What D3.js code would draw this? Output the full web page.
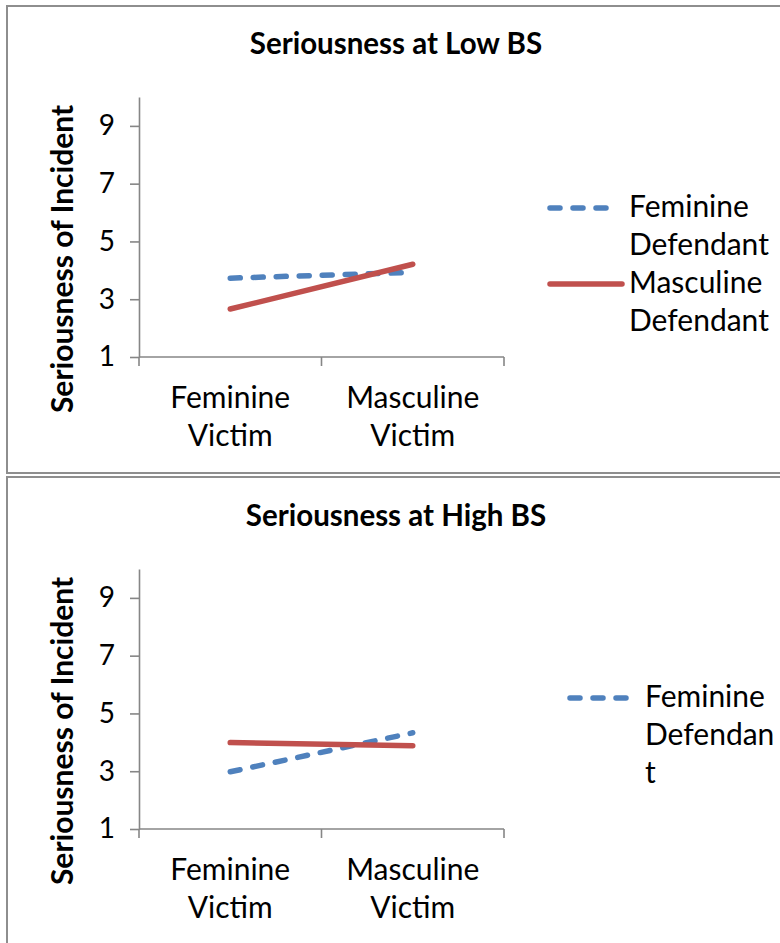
<!DOCTYPE html>
<html>
<head>
<meta charset="utf-8">
<script src="https://cdn.jsdelivr.net/npm/d3@7"></script>
<style>
  html, body { margin: 0; padding: 0; background: #fff; }
  svg { display: block; }
</style>
</head>
<body>
<div id="app"></div>
<script>
// categories on the x axis (each label split into its two printed lines)
const victimLabels = [['Feminine', 'Victim'], ['Masculine', 'Victim']];
const categories = ['Feminine Victim', 'Masculine Victim'];
const yTicks = [1, 3, 5, 7, 9];

// series values
const lowFeminineDef = [3.73, 3.93];
const lowMasculineDef = [2.66, 4.21];
const highFeminineDef = [2.98, 4.33];
const highMasculineDef = [3.99, 3.88];

const panelTitles = ['Seriousness at Low BS', 'Seriousness at High BS'];
const yTitle = 'Seriousness of Incident';
// legend text as it wraps in each panel (bottom one is clipped by the frame)
const lowLegend = [['Feminine', 'Defendant'], ['Masculine', 'Defendant']];
const highLegend = [['Feminine', 'Defendan', 't']];

(() => {
  const W = 780;
  const H = 943;
  const font = 'Lato, "Open Sans", "Noto Sans", sans-serif';
  const blue = '#4f81bd';
  const red = '#c0504d';
  const axisGrey = '#868686';
  const frameGrey = '#8e8e8e';
  const lineGap = 38; // line spacing of wrapped labels
  const labelSize = '30px';

  const svg = d3.select('#app')
    .append('svg')
    .attr('width', W)
    .attr('height', H);

  const panels = [
    {
      top: 6, frameH: 467, dy: 0, title: panelTitles[0], legend: lowLegend,
      series: [
        { values: lowFeminineDef, color: blue, dash: '10,13' },
        { values: lowMasculineDef, color: red, dash: null },
      ],
      legendX: 550, legendLen: 68, legendY: 208,
    },
    {
      top: 477, frameH: 600, dy: 472, title: panelTitles[1], legend: highLegend,
      series: [
        { values: highFeminineDef, color: blue, dash: '10,13' },
        { values: highMasculineDef, color: red, dash: null },
      ],
      legendX: 570, legendLen: 64, legendY: 698,
    },
  ];

  panels.forEach((p) => {
    // chart frame
    svg.append('rect')
      .attr('x', 7)
      .attr('y', p.top)
      .attr('width', W + 20)
      .attr('height', p.frameH)
      .style('fill', 'none')
      .style('stroke', frameGrey)
      .style('stroke-width', 2);

    const g = svg.append('g').attr('transform', `translate(0,${p.dy})`);

    const x = d3.scaleBand().domain(categories).range([139, 504]);
    const y = d3.scaleLinear().domain([1, 10]).range([357, 97]);

    // title
    g.append('text')
      .text(p.title)
      .attr('x', 396)
      .attr('y', 54)
      .attr('font-family', font)
      .attr('font-size', '29.5px')
      .attr('font-weight', 700)
      .style('text-anchor', 'middle')
      .style('fill', '#000');

    // y axis
    const yAxis = g.append('g')
      .attr('transform', `translate(${x.range()[0]},0)`)
      .call(d3.axisLeft(y).tickValues(yTicks).tickSize(9).tickSizeOuter(0).tickPadding(15));
    yAxis.select('.domain').style('stroke', axisGrey).style('stroke-width', 1.6);
    yAxis.selectAll('.tick line').style('stroke', axisGrey).style('stroke-width', 1.6);
    yAxis.selectAll('.tick text')
      .attr('font-family', font)
      .attr('font-size', '28px')
      .style('fill', '#000');

    // x axis: line plus tick marks on the category boundaries
    const xAxis = g.append('g').attr('transform', `translate(0,${y(1)})`);
    xAxis.append('line')
      .attr('x1', x.range()[0])
      .attr('x2', x.range()[1])
      .style('stroke', axisGrey)
      .style('stroke-width', 1.6);
    xAxis.selectAll('.edge')
      .data(d3.range(categories.length + 1))
      .enter()
      .append('line')
      .attr('class', 'edge')
      .attr('x1', i => x.range()[0] + i * x.step())
      .attr('x2', i => x.range()[0] + i * x.step())
      .attr('y1', 0)
      .attr('y2', 9)
      .style('stroke', axisGrey)
      .style('stroke-width', 1.6);

    const xLabels = xAxis.selectAll('.xl')
      .data(victimLabels)
      .enter()
      .append('text')
      .attr('class', 'xl')
      .attr('font-family', font)
      .attr('font-size', labelSize)
      .style('text-anchor', 'middle')
      .style('fill', '#000');
    xLabels.selectAll('tspan')
      .data((d, i) => d.map(t => ({ t, i })))
      .enter()
      .append('tspan')
      .attr('x', d => x(categories[d.i]) + x.bandwidth() / 2)
      .attr('y', (d, j) => 51 + j * lineGap)
      .text(d => d.t);

    // y title
    g.append('text')
      .text(yTitle)
      .attr('transform', `translate(73,${(y(1) + y(10)) / 2 + 32}) rotate(-90)`)
      .attr('font-family', font)
      .attr('font-size', '30px')
      .attr('font-weight', 700)
      .style('text-anchor', 'middle')
      .style('fill', '#000');

    // series lines
    const line = d3.line()
      .x((d, i) => x(categories[i]) + x.bandwidth() / 2)
      .y(d => y(d));
    p.series.forEach((s) => {
      g.append('path')
        .datum(s.values)
        .attr('d', line)
        .style('fill', 'none')
        .style('stroke', s.color)
        .style('stroke-width', 5.5)
        .style('stroke-linecap', 'round')
        .style('stroke-dasharray', s.dash);
    });

    // legend
    const lg = svg.append('g');
    let ly = p.legendY;
    p.legend.forEach((lines, k) => {
      const s = p.series[k];
      lg.append('line')
        .attr('x1', p.legendX)
        .attr('x2', p.legendX + p.legendLen + (s.dash ? 0 : 4))
        .attr('y1', ly)
        .attr('y2', ly)
        .style('stroke', s.color)
        .style('stroke-width', 5.5)
        .style('stroke-linecap', 'round')
        .style('stroke-dasharray', s.dash);
      lg.selectAll(null)
        .data(lines)
        .enter()
        .append('text')
        .text(d => d)
        .attr('x', p.legendX + p.legendLen + 11)
        .attr('y', (d, j) => ly + 9 + j * lineGap)
        .attr('font-family', font)
        .attr('font-size', labelSize)
        .style('fill', '#000');
      ly += lines.length * lineGap;
    });
  });
})();
</script>
</body>
</html>
